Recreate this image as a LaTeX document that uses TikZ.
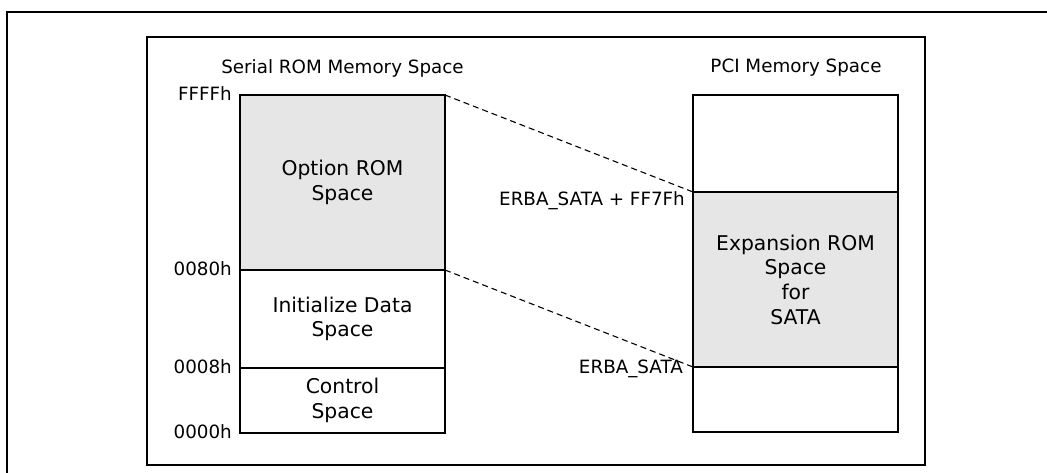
\documentclass[tikz,border=0pt]{standalone}
\usepackage{fontspec}
\setmainfont{DejaVu Sans}
\usetikzlibrary{positioning}

\definecolor{romgray}{RGB}{230,230,230}

\begin{document}
\begin{tikzpicture}[x=1pt,y=-1pt]
    \tikzstyle{every node}=[font=\fontsize{18.3}{24.7}\selectfont]

    \edef\blkwidth{205pt}
    \tikzstyle{memblk}=[draw,line width=1.4pt,minimum width=\blkwidth,
                        inner sep=0pt,outer sep=0pt,align=center,
                        font=\fontsize{20.3}{24.7}\selectfont]
    \tikzstyle{addr}=[inner sep=0pt,anchor=base east]
    \tikzstyle{maplink}=[dash pattern=on 6pt off 4pt,line width=1.1pt]

    \useasboundingbox (0,0) rectangle (1047,472);
    \clip (0,0) rectangle (1047,472);

    % Draw frames
    \draw [line width=2.2pt] (7,480) |- (1060,12);
    \draw [line width=1.4pt] (147,37) rectangle (925,465);

    % Draw serial ROM stack
    \node (romtitle) at (342.5,68) {Serial ROM Memory Space};
    \node [memblk,fill=romgray,minimum height=175pt,anchor=north west]
        (optrom) at (240,95) {Option ROM\\Space};
    \node [memblk,minimum height=98pt,below=0pt of optrom]
        (initdata) {Initialize Data\\Space};
    \node [memblk,minimum height=65pt,below=0pt of initdata]
        (ctrl) {Control\\Space};

    % Draw PCI stack
    \node (pcititle) at (796,68) {PCI Memory Space};
    \node [memblk,minimum height=97pt,anchor=north west]
        (pcitop) at (693,95) {};
    \node [memblk,fill=romgray,minimum height=175pt,below=0pt of pcitop]
        (expn) {Expansion ROM\\Space\\for\\SATA};
    \node [memblk,minimum height=65pt,below=0pt of expn] (pcibot) {};

    % Address labels
    \node [addr] (aFFFF) at ([xshift=-8pt,yshift=-5.5pt]optrom.north west) {FFFFh};
    \node [addr] (a0080) at ([xshift=-8pt,yshift=-5.5pt]optrom.south west) {0080h};
    \node [addr] (a0008) at ([xshift=-8pt,yshift=-5.5pt]initdata.south west) {0008h};
    \node [addr] (a0000) at ([xshift=-8pt,yshift=-5.5pt]ctrl.south west) {0000h};
    \node [addr] (atop) at ([xshift=-8pt,yshift=-13pt]expn.north west) {ERBA\_SATA + FF7Fh};
    \node [addr] (abase) at ([xshift=-10pt,yshift=-6pt]expn.south west) {ERBA\_SATA};

    % Map option ROM onto expansion ROM
    \draw [maplink] (optrom.north east) -- (expn.north west);
    \draw [maplink] (optrom.south east) -- (expn.south west);
\end{tikzpicture}
\end{document}
